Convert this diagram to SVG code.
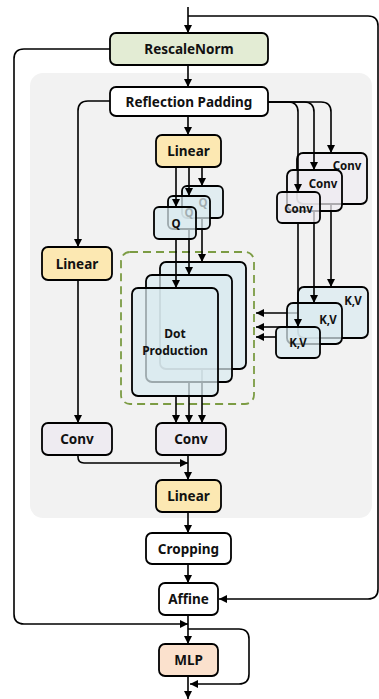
<svg xmlns="http://www.w3.org/2000/svg" width="379" height="699" viewBox="0 0 379 699">
  <defs>
    <marker id="arr" viewBox="0 0 10 10" refX="10" refY="5" markerWidth="9" markerHeight="8" markerUnits="userSpaceOnUse" orient="auto">
      <path d="M0,0 L10,5 L0,10 Z" fill="#000"/>
    </marker>
    <style>
      .box { stroke: #000; stroke-width: 1.8; }
      .stk { stroke: #000; stroke-width: 1.8; fill-opacity: 0.72; }
      .green { fill: #e3ecd4; }
      .white { fill: #ffffff; }
      .yellow { fill: #fce8b2; }
      .conv { fill: #eeebf1; }
      .blue { fill: #d9eaf0; }
      .peach { fill: #fbe1cd; }
      .ln { fill: none; stroke: #000; stroke-width: 1.6; }
      .la { fill: none; stroke: #000; stroke-width: 1.6; marker-end: url(#arr); }
      text { font-family: "Noto Sans", "Open Sans", "DejaVu Sans", sans-serif; font-weight: 700; fill: #111; text-anchor: middle; dominant-baseline: central; }
      .t13 { font-size: 13.5px; }
      .t12 { font-size: 12px; }
      .t11 { font-size: 11.5px; }
    </style>
  </defs>

  <!-- shaded attention block -->
  <rect id="panel" x="30" y="73" width="342" height="445" rx="13" fill="#f2f2f2"/>

  <!-- dashed region grouping the dot production stack -->
  <rect id="dot-region" x="121" y="252" width="133" height="152" rx="9" fill="none" stroke="#7c9c44" stroke-width="1.8" stroke-dasharray="8,5"/>

  <!-- connectors of the main path -->
  <g id="connectors">
    <path class="la" d="M188,7 V33"/>
    <path class="la" d="M188,16 H368 Q378,16 378,26 V589 Q378,599 368,599 H219"/>
    <path class="la" d="M110,49 H24 Q14,49 14,59 V614 Q14,624 24,624 H188"/>
    <path class="la" d="M188,65 V87"/>
    <path class="la" d="M110,101 H88 Q78,101 78,111 V247"/>
    <path class="la" d="M188,116 V135"/>
    <path class="la" d="M78,280 V423"/>
    <path class="la" d="M78,455 V457 Q78,463 84,463 H188"/>
    <path class="la" d="M188,455 V480"/>
    <path class="la" d="M188,512 V533"/>
    <path class="la" d="M188,564 V583"/>
    <path class="la" d="M188,615 V644"/>
    <path class="la" d="M188,629 H239 Q249,629 249,639 V674 Q249,684 239,684 H190"/>
    <path class="la" d="M188,676 V699"/>
    <!-- reflection padding fan-out to the three conv branches -->
    <path class="ln" d="M268,102 H288 Q298,102 298,112"/>
    <path class="ln" d="M268,102 H304 Q314,102 314,112"/>
    <path class="ln" d="M268,102 H321 Q331,102 331,112"/>
  </g>

  <g id="rescalenorm">
    <rect class="box green" x="110" y="33" width="158" height="32" rx="6"/>
    <text class="t13" x="189" y="49">RescaleNorm</text>
  </g>

  <g id="reflection-padding">
    <rect class="box white" x="110" y="87" width="158" height="29" rx="6"/>
    <text class="t13" x="189" y="101.5">Reflection Padding</text>
  </g>

  <g id="linear-q">
    <rect class="box yellow" x="156" y="135" width="65" height="32" rx="6"/>
    <text class="t13" x="188.5" y="151">Linear</text>
  </g>

  <g id="linear-left">
    <rect class="box yellow" x="42" y="247" width="70" height="33" rx="6"/>
    <text class="t13" x="77" y="263.5">Linear</text>
  </g>

  <g id="conv-left">
    <rect class="box conv" x="42" y="423" width="70" height="32" rx="6"/>
    <text class="t13" x="77" y="439">Conv</text>
  </g>

  <!-- back layer of the Q / dot production / conv / K,V stacks -->
  <g id="q-3">
    <rect class="stk blue" x="182" y="186" width="41" height="32" rx="5"/>
    <text class="t11" x="203" y="202">Q</text>
  </g>
  <g id="dot-3">
    <rect class="stk blue" x="160" y="262" width="86" height="107" rx="6"/>
  </g>
  <g id="conv-kv-3">
    <rect class="stk conv" x="297" y="153" width="70" height="51" rx="6"/>
    <text class="t11" x="347" y="165">Conv</text>
  </g>
  <g id="kv-3">
    <rect class="stk blue" x="298" y="287" width="70" height="51" rx="6"/>
    <text class="t11" x="353" y="300">K,V</text>
  </g>
  <g id="connectors-3">
    <path class="la" d="M202,167 V186"/>
    <path class="la" d="M202,218 V262"/>
    <path class="la" d="M202,369 V423"/>
    <path class="la" d="M331,112 V153"/>
    <path class="la" d="M331,204 V287"/>
    <path class="la" d="M298,313 H256"/>
  </g>

  <!-- middle layer -->
  <g id="q-2">
    <rect class="stk blue" x="168" y="196" width="42" height="33" rx="5"/>
    <text class="t11" x="189" y="212">Q</text>
  </g>
  <g id="dot-2">
    <rect class="stk blue" x="146" y="275" width="86" height="107" rx="6"/>
  </g>
  <g id="conv-kv-2">
    <rect class="stk conv" x="287" y="170" width="55" height="41" rx="6"/>
    <text class="t11" x="323" y="183">Conv</text>
  </g>
  <g id="kv-2">
    <rect class="stk blue" x="287" y="303" width="55" height="41" rx="6"/>
    <text class="t11" x="328" y="319">K,V</text>
  </g>
  <g id="connectors-2">
    <path class="la" d="M189,167 V196"/>
    <path class="la" d="M189,229 V275"/>
    <path class="la" d="M189,382 V423"/>
    <path class="la" d="M314,112 V170"/>
    <path class="la" d="M314,211 V303"/>
    <path class="la" d="M287,327 H256"/>
  </g>

  <!-- front layer -->
  <g id="q-1">
    <rect class="stk blue" x="154" y="207" width="42" height="32" rx="5"/>
    <text class="t11" x="176" y="223">Q</text>
  </g>
  <g id="dot-1">
    <rect class="stk blue" x="132" y="288" width="86" height="108" rx="6"/>
    <text class="t12" x="175" y="333">Dot</text>
    <text class="t12" x="175" y="350">Production</text>
  </g>
  <g id="conv-kv-1">
    <rect class="stk conv" x="277" y="192" width="43" height="31" rx="5"/>
    <text class="t11" x="298.5" y="208">Conv</text>
  </g>
  <g id="kv-1">
    <rect class="stk blue" x="276" y="327" width="44" height="31" rx="5"/>
    <text class="t11" x="298" y="342">K,V</text>
  </g>
  <g id="connectors-1">
    <path class="la" d="M176,167 V207"/>
    <path class="la" d="M176,239 V288"/>
    <path class="la" d="M176,396 V423"/>
    <path class="la" d="M298,112 V192"/>
    <path class="la" d="M298,223 V327"/>
    <path class="la" d="M276,337 H256"/>
  </g>

  <g id="conv-out">
    <rect class="box conv" x="156" y="423" width="70" height="32" rx="6"/>
    <text class="t13" x="191" y="439">Conv</text>
  </g>

  <g id="linear-out">
    <rect class="box yellow" x="156" y="480" width="65" height="32" rx="6"/>
    <text class="t13" x="188.5" y="496">Linear</text>
  </g>

  <g id="cropping">
    <rect class="box white" x="146" y="533" width="85" height="31" rx="6"/>
    <text class="t13" x="188.5" y="548.5">Cropping</text>
  </g>

  <g id="affine">
    <rect class="box white" x="159" y="583" width="59" height="32" rx="6"/>
    <text class="t13" x="188.5" y="599">Affine</text>
  </g>

  <g id="mlp">
    <rect class="box peach" x="159" y="644" width="59" height="32" rx="6"/>
    <text class="t13" x="188.5" y="660">MLP</text>
  </g>
</svg>
